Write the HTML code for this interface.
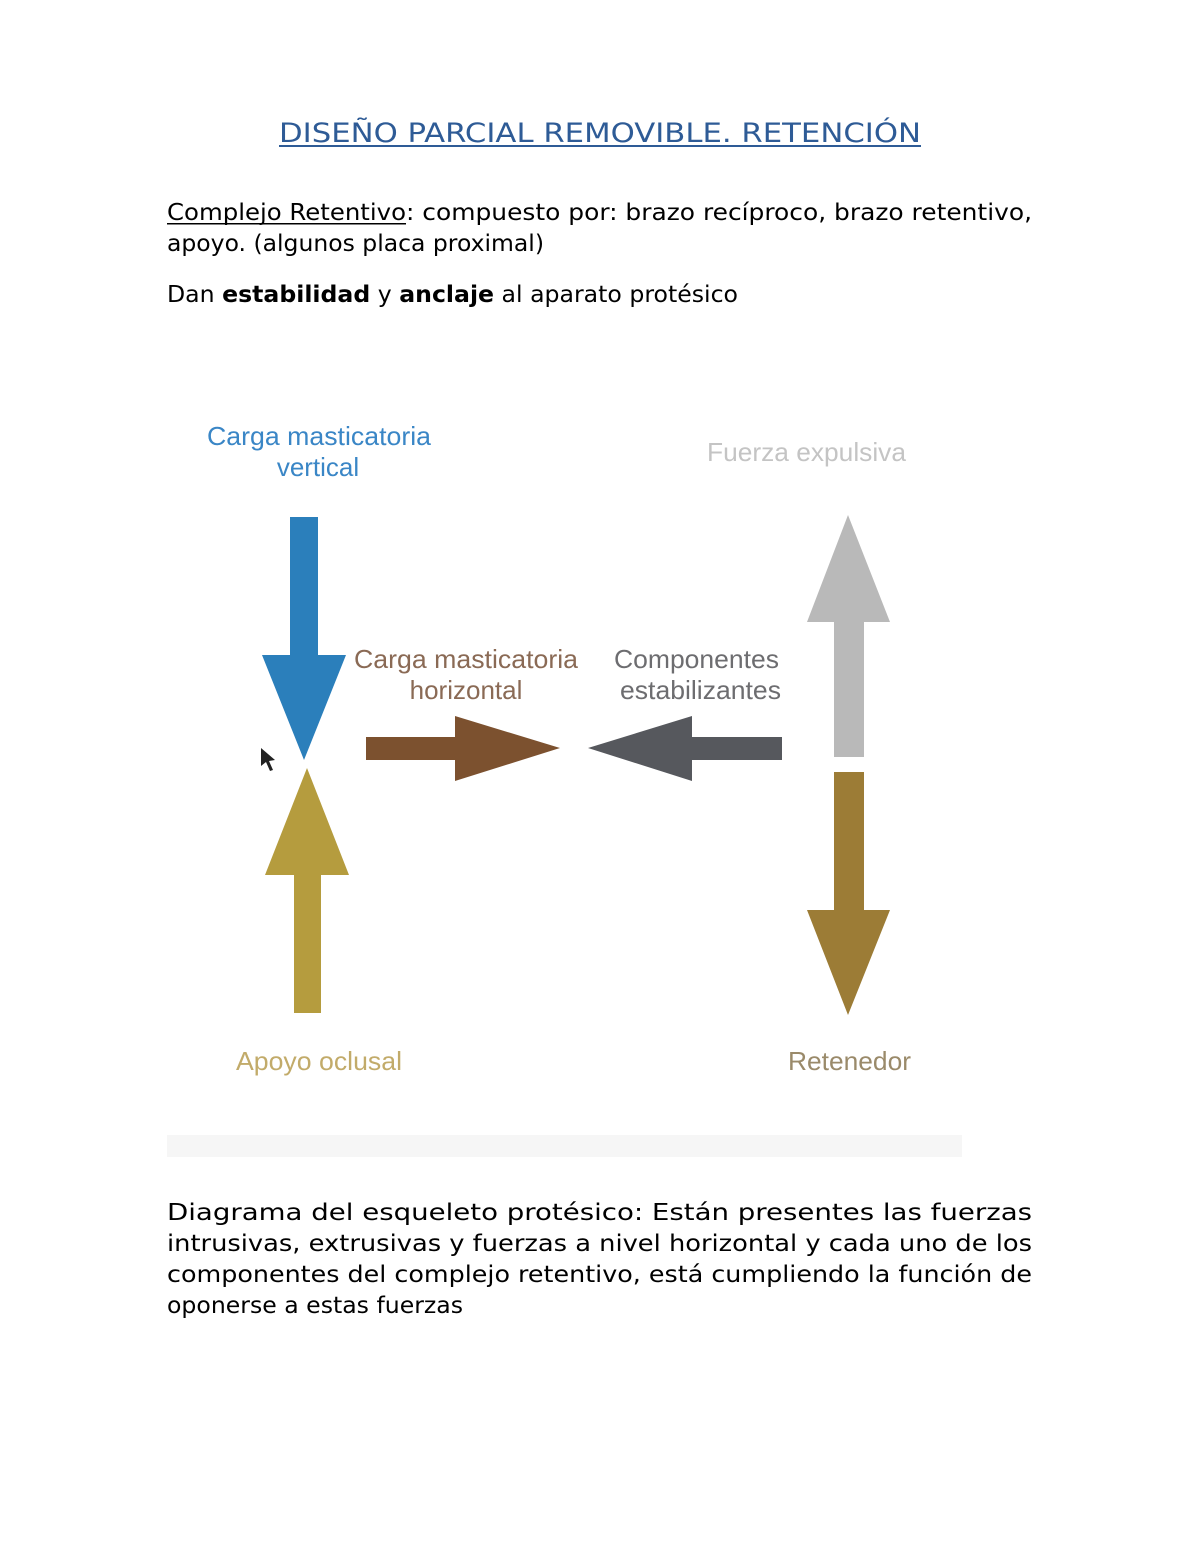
<!DOCTYPE html>
<html><head><meta charset="utf-8"><style>
html,body{margin:0;padding:0;background:#fff;}
svg{display:block;}
.b{font-family:"DejaVu Sans",sans-serif;font-size:23px;fill:#000;}
.l{font-family:"Liberation Sans",sans-serif;font-size:26px;}
</style></head><body>
<svg width="1200" height="1553" viewBox="0 0 1200 1553" xmlns="http://www.w3.org/2000/svg">
<text x="279" y="142" class="b" style="font-size:27px;fill:#2e5b96" textLength="642" lengthAdjust="spacingAndGlyphs">DISEÑO PARCIAL REMOVIBLE. RETENCIÓN</text>
<rect x="279" y="145" width="642" height="2" fill="#2e5b96"/>
<text y="220" class="b"><tspan x="167" textLength="239" lengthAdjust="spacingAndGlyphs">Complejo Retentivo</tspan><tspan x="406" textLength="626" lengthAdjust="spacingAndGlyphs">: compuesto   por:   brazo   recíproco,   brazo   retentivo,</tspan></text>
<rect x="167" y="223" width="239" height="1.5" fill="#000"/>
<text x="167" y="251" class="b" textLength="377" lengthAdjust="spacingAndGlyphs">apoyo. (algunos placa proximal)</text>
<text x="167" y="302" class="b" textLength="571" lengthAdjust="spacingAndGlyphs">Dan <tspan font-weight="bold">estabilidad</tspan> y <tspan font-weight="bold">anclaje</tspan> al aparato protésico</text>

<rect x="167" y="1135" width="795" height="22" fill="#f6f6f6"/>

<text x="207" y="445" class="l" fill="#3a86c6" textLength="224" lengthAdjust="spacingAndGlyphs">Carga masticatoria</text>
<text x="318" y="476" class="l" fill="#3a86c6" text-anchor="middle">vertical</text>
<text x="707" y="461" class="l" fill="#c4c4c4" textLength="199" lengthAdjust="spacingAndGlyphs">Fuerza expulsiva</text>
<text x="354" y="668" class="l" fill="#8a6a55" textLength="224" lengthAdjust="spacingAndGlyphs">Carga masticatoria</text>
<text x="466" y="699" class="l" fill="#8a6a55" text-anchor="middle">horizontal</text>
<text x="614" y="668" class="l" fill="#6d6d70" textLength="165" lengthAdjust="spacingAndGlyphs">Componentes</text>
<text x="620" y="699" class="l" fill="#6d6d70" textLength="161" lengthAdjust="spacingAndGlyphs">estabilizantes</text>
<text x="236" y="1070" class="l" fill="#c2ab6a" textLength="166" lengthAdjust="spacingAndGlyphs">Apoyo oclusal</text>
<text x="788" y="1070" class="l" fill="#9a8a6a" textLength="123" lengthAdjust="spacingAndGlyphs">Retenedor</text>

<polygon points="290,517 318,517 318,655 346,655 304,760 262,655 290,655" fill="#2b7fbb"/>
<polygon points="307,768 349,875 321,875 321,1013 294,1013 294,875 265,875" fill="#b59c3e"/>
<polygon points="366,737 455,737 455,716 560,748 455,781 455,760 366,760" fill="#7c512f"/>
<polygon points="588,748 692,716 692,737 782,737 782,760 692,760 692,781" fill="#56585d"/>
<polygon points="848,515 890,622 864,622 864,757 834,757 834,622 807,622" fill="#b9b9b9"/>
<polygon points="834,772 864,772 864,910 890,910 848,1015 807,910 834,910" fill="#9c7c36"/>
<polygon points="261,748 261,766 266,762 270,771 273,770 269,761 275,760" fill="#222"/>

<text x="167" y="1220" class="b" textLength="865" lengthAdjust="spacingAndGlyphs">Diagrama  del  esqueleto  protésico:    Están  presentes  las  fuerzas</text>
<text x="167" y="1251" class="b" textLength="865" lengthAdjust="spacingAndGlyphs">intrusivas,  extrusivas  y  fuerzas  a  nivel  horizontal  y  cada  uno  de  los</text>
<text x="167" y="1282" class="b" textLength="865" lengthAdjust="spacingAndGlyphs">componentes  del  complejo  retentivo,  está  cumpliendo  la  función  de</text>
<text x="167" y="1313" class="b" textLength="296" lengthAdjust="spacingAndGlyphs">oponerse a estas fuerzas</text>
</svg>
</body></html>
